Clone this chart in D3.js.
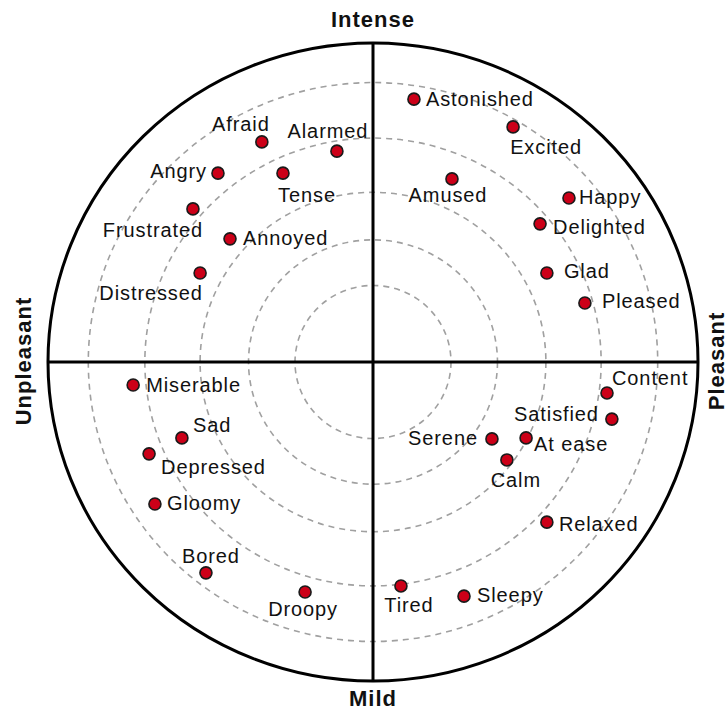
<!DOCTYPE html>
<html>
<head>
<meta charset="utf-8">
<script src="https://cdn.jsdelivr.net/npm/d3@7"></script>
<style>
  body { margin: 0; background: #fff; }
  svg text { font-family: "Liberation Sans", Arial, sans-serif; }
</style>
</head>
<body>
<div id="chart"></div>
<script>
// emotion names and their positions on the circumplex (-1..1)
var emotions = ["Afraid", "Alarmed", "Angry", "Tense", "Frustrated", "Annoyed", "Distressed",
  "Astonished", "Excited", "Amused", "Happy", "Delighted", "Glad", "Pleased",
  "Miserable", "Sad", "Depressed", "Gloomy", "Bored", "Droopy",
  "Content", "Satisfied", "Serene", "At ease", "Calm", "Relaxed", "Tired", "Sleepy"];
var valence = [-0.342, -0.111, -0.477, -0.277, -0.554, -0.440, -0.532,
  0.126, 0.431, 0.243, 0.603, 0.514, 0.535, 0.652,
  -0.738, -0.588, -0.689, -0.671, -0.514, -0.209,
  0.720, 0.735, 0.366, 0.471, 0.412, 0.535, 0.086, 0.280];
var arousal = [0.690, 0.661, 0.592, 0.592, 0.480, 0.386, 0.279,
  0.824, 0.737, 0.574, 0.514, 0.433, 0.279, 0.185,
  -0.072, -0.238, -0.288, -0.445, -0.661, -0.721,
  -0.097, -0.179, -0.241, -0.238, -0.307, -0.502, -0.702, -0.734];

// dashed reference rings
var rings = [0.24, 0.383, 0.532, 0.702, 0.876];

// axis titles
var axisTitles = ["Intense", "Mild", "Unpleasant", "Pleasant"];

// label placement: [dx, dy, anchor]
var labelPlacement = {
  "Afraid": [-21, -11, "middle"], "Alarmed": [-9, -13, "middle"],
  "Angry": [-11, 5, "end"], "Tense": [24, 29, "middle"],
  "Frustrated": [-40, 28, "middle"], "Annoyed": [13, 6, "start"],
  "Distressed": [-49, 27, "middle"], "Astonished": [12, 7, "start"],
  "Excited": [33, 27, "middle"], "Amused": [-4, 23, "middle"],
  "Happy": [10, 6, "start"], "Delighted": [13, 10, "start"],
  "Glad": [17, 5, "start"], "Pleased": [17, 5, "start"],
  "Miserable": [13, 7, "start"], "Sad": [11, -6, "start"],
  "Depressed": [12, 20, "start"], "Gloomy": [12, 6, "start"],
  "Bored": [5, -10, "middle"], "Droopy": [-2, 24, "middle"],
  "Content": [5, -8, "start"], "Satisfied": [-13, 2, "end"],
  "Serene": [-14, 6, "end"], "At ease": [8, 13, "start"],
  "Calm": [9, 27, "middle"], "Relaxed": [12, 9, "start"],
  "Tired": [8, 26, "middle"], "Sleepy": [13, 6, "start"]
};

var svgWidth = 726;
var svgHeight = 711;
var cx = 373, cy = 362;
var rx = 325, ry = 319;

var data = emotions.map(function(name, i) {
  return { name: name, x: valence[i], y: arousal[i] };
});

var xScale = d3.scaleLinear().domain([-1, 1]).range([cx - rx, cx + rx]);
var yScale = d3.scaleLinear().domain([-1, 1]).range([cy + ry, cy - ry]);

var svg = d3.select("#chart")
  .append("svg")
  .attr("width", svgWidth)
  .attr("height", svgHeight);

// dashed rings
svg.selectAll("ellipse.ring")
  .data(rings)
  .enter()
  .append("ellipse")
  .attr("class", "ring")
  .attr("cx", xScale(0))
  .attr("cy", yScale(0))
  .attr("rx", d => xScale(d) - xScale(0))
  .attr("ry", d => yScale(0) - yScale(d))
  .attr("fill", "none")
  .attr("stroke", "#a0a0a0")
  .attr("stroke-width", 1.6)
  .attr("stroke-dasharray", "6,5");

// outer circle
svg.append("ellipse")
  .attr("cx", xScale(0))
  .attr("cy", yScale(0))
  .attr("rx", xScale(1) - xScale(0))
  .attr("ry", yScale(0) - yScale(1))
  .attr("fill", "none")
  .attr("stroke", "#000")
  .attr("stroke-width", 3);

// axes
svg.append("line")
  .attr("x1", xScale(-1)).attr("x2", xScale(1))
  .attr("y1", yScale(0)).attr("y2", yScale(0))
  .attr("stroke", "#000").attr("stroke-width", 3);
svg.append("line")
  .attr("x1", xScale(0)).attr("x2", xScale(0))
  .attr("y1", yScale(1)).attr("y2", yScale(-1))
  .attr("stroke", "#000").attr("stroke-width", 3);

// axis titles
var titleStyle = function(sel) {
  sel.style("font-size", "22px")
    .style("font-weight", "bold")
    .style("letter-spacing", "1px")
    .attr("fill", "#111")
    .attr("text-anchor", "middle");
};
svg.append("text").call(titleStyle)
  .attr("x", xScale(0)).attr("y", 27)
  .text(axisTitles[0]);
svg.append("text").call(titleStyle)
  .attr("x", xScale(0)).attr("y", 706)
  .text(axisTitles[1]);
svg.append("text").call(titleStyle)
  .attr("transform", `translate(31, ${yScale(0) - 1}) rotate(-90)`)
  .text(axisTitles[2]);
svg.append("text").call(titleStyle)
  .attr("transform", `translate(724, ${yScale(0) - 1}) rotate(-90)`)
  .text(axisTitles[3]);

// points
svg.selectAll("circle.pt")
  .data(data)
  .enter()
  .append("circle")
  .attr("class", "pt")
  .attr("cx", d => xScale(d.x))
  .attr("cy", d => yScale(d.y))
  .attr("r", 6)
  .attr("fill", "#cc0018")
  .attr("stroke", "#1a1a1a")
  .attr("stroke-width", 1.6);

// labels
svg.selectAll("text.lbl")
  .data(data)
  .enter()
  .append("text")
  .attr("class", "lbl")
  .attr("x", d => xScale(d.x) + labelPlacement[d.name][0])
  .attr("y", d => yScale(d.y) + labelPlacement[d.name][1])
  .attr("text-anchor", d => labelPlacement[d.name][2])
  .style("font-size", "20px")
  .style("letter-spacing", "0.9px")
  .attr("fill", "#111")
  .text(d => d.name);
</script>
</body>
</html>
